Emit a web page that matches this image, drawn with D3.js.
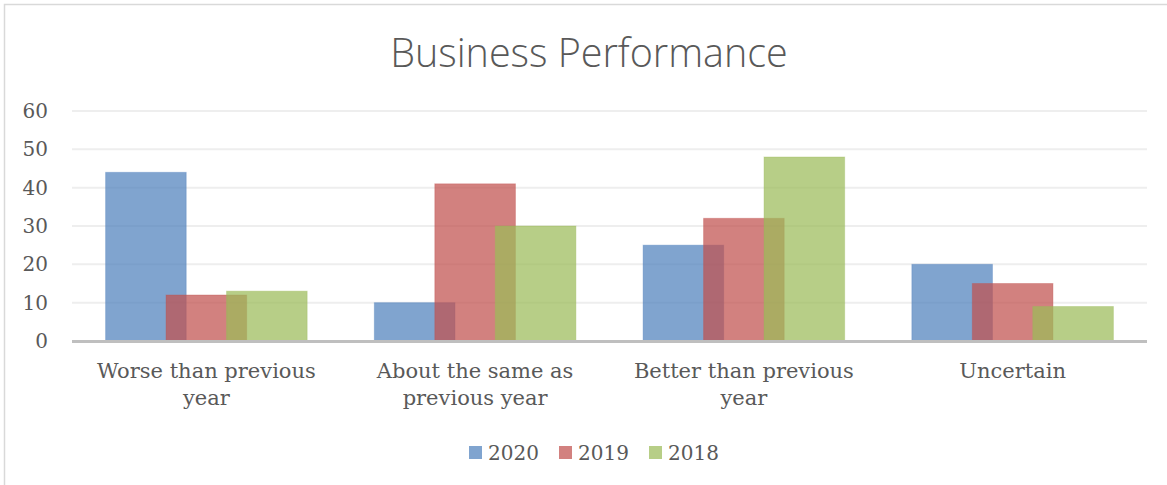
<!DOCTYPE html>
<html>
<head>
<meta charset="utf-8">
<script src="https://cdn.jsdelivr.net/npm/d3@7"></script>
<style>
  html, body { margin: 0; padding: 0; background: #fff; }
  svg { display: block; }
</style>
</head>
<body>
<svg id="chart" width="1167" height="485"></svg>
<script>
// Survey responses on business performance, by year
const categories = [
  ["Worse than previous", "year"],
  ["About the same as", "previous year"],
  ["Better than previous", "year"],
  ["Uncertain"]
];
const seriesNames = ["2020", "2019", "2018"];
const values2020 = [44, 10, 25, 20];
const values2019 = [12, 41, 32, 15];
const values2018 = [13, 30, 48, 9];
const yTicks = [0, 10, 20, 30, 40, 50, 60];
const colors = ["#4F81BD", "#C0504D", "#9BBB59"];

const seriesValues = [values2020, values2019, values2018];

const svg = d3.select("#chart");
const W = 1167, H = 485;
const plot = { left: 72, right: 1147, top: 111, bottom: 341 };
const serif = "'DejaVu Serif', 'Liberation Serif', serif";
const textColor = "#595959";

// chart frame
svg.append("rect")
  .attr("x", 4.5).attr("y", 4.5)
  .attr("width", W + 20).attr("height", H + 20)
  .attr("fill", "#fff").attr("stroke", "#D9D9D9").attr("stroke-width", 1.5);

// title
svg.append("text")
  .attr("x", 589).attr("y", 67)
  .attr("text-anchor", "middle")
  .attr("font-family", "'Open Sans', 'Noto Sans', sans-serif")
  .attr("font-weight", 300)
  .attr("font-size", 39.5)
  .attr("fill", textColor)
  .text("Business Performance");

const x = d3.scaleBand()
  .domain(d3.range(categories.length))
  .range([plot.left, plot.right]);

const y = d3.scaleLinear()
  .domain([0, 60])
  .range([plot.bottom, plot.top]);

// gridlines
svg.append("g")
  .selectAll("line")
  .data(yTicks.filter(t => t > 0))
  .join("line")
  .attr("x1", plot.left).attr("x2", plot.right)
  .attr("y1", d => y(d)).attr("y2", d => y(d))
  .attr("stroke", "#EEEEEE").attr("stroke-width", 2);

// y axis labels
const yAxis = d3.axisLeft(y).tickValues(yTicks).tickSize(0).tickPadding(0);
const yG = svg.append("g")
  .attr("transform", `translate(${plot.left - 24},0)`)
  .call(yAxis);
yG.select(".domain").remove();
yG.selectAll("text")
  .attr("font-family", serif)
  .attr("font-size", 20)
  .attr("fill", textColor);

// bars: overlapping series
const barW = x.bandwidth() * 0.30;
const step = barW * 0.75;
const groupW = barW + step * (seriesNames.length - 1);

seriesValues.forEach((vals, si) => {
  svg.append("g")
    .selectAll("rect")
    .data(vals)
    .join("rect")
    .attr("x", (d, i) => x(i) + (x.bandwidth() - groupW) / 2 + si * step)
    .attr("y", d => y(d))
    .attr("width", barW)
    .attr("height", d => y(0) - y(d))
    .attr("fill", colors[si])
    .attr("fill-opacity", 0.72)
    .attr("stroke", colors[si])
    .attr("stroke-opacity", 0.35)
    .attr("stroke-width", 1);
});

// baseline
svg.append("line")
  .attr("x1", plot.left).attr("x2", plot.right)
  .attr("y1", y(0) + 0.5).attr("y2", y(0) + 0.5)
  .attr("stroke", "#BFBFBF").attr("stroke-width", 3);

// category labels
const xl = svg.append("g");
categories.forEach((lines, i) => {
  const t = xl.append("text")
    .attr("text-anchor", "middle")
    .attr("font-family", serif)
    .attr("font-size", 21)
    .attr("fill", textColor);
  lines.forEach((ln, j) => {
    t.append("tspan")
      .attr("x", x(i) + x.bandwidth() / 2)
      .attr("y", 378 + j * 27)
      .text(ln);
  });
});

// legend
const legendX = [469, 559, 649];
const lg = svg.append("g");
seriesNames.forEach((name, i) => {
  lg.append("rect")
    .attr("x", legendX[i]).attr("y", 446)
    .attr("width", 13).attr("height", 13)
    .attr("fill", colors[i]).attr("fill-opacity", 0.72);
  lg.append("text")
    .attr("x", legendX[i] + 19).attr("y", 460)
    .attr("font-family", serif)
    .attr("font-size", 20)
    .attr("fill", textColor)
    .text(name);
});
</script>
</body>
</html>
